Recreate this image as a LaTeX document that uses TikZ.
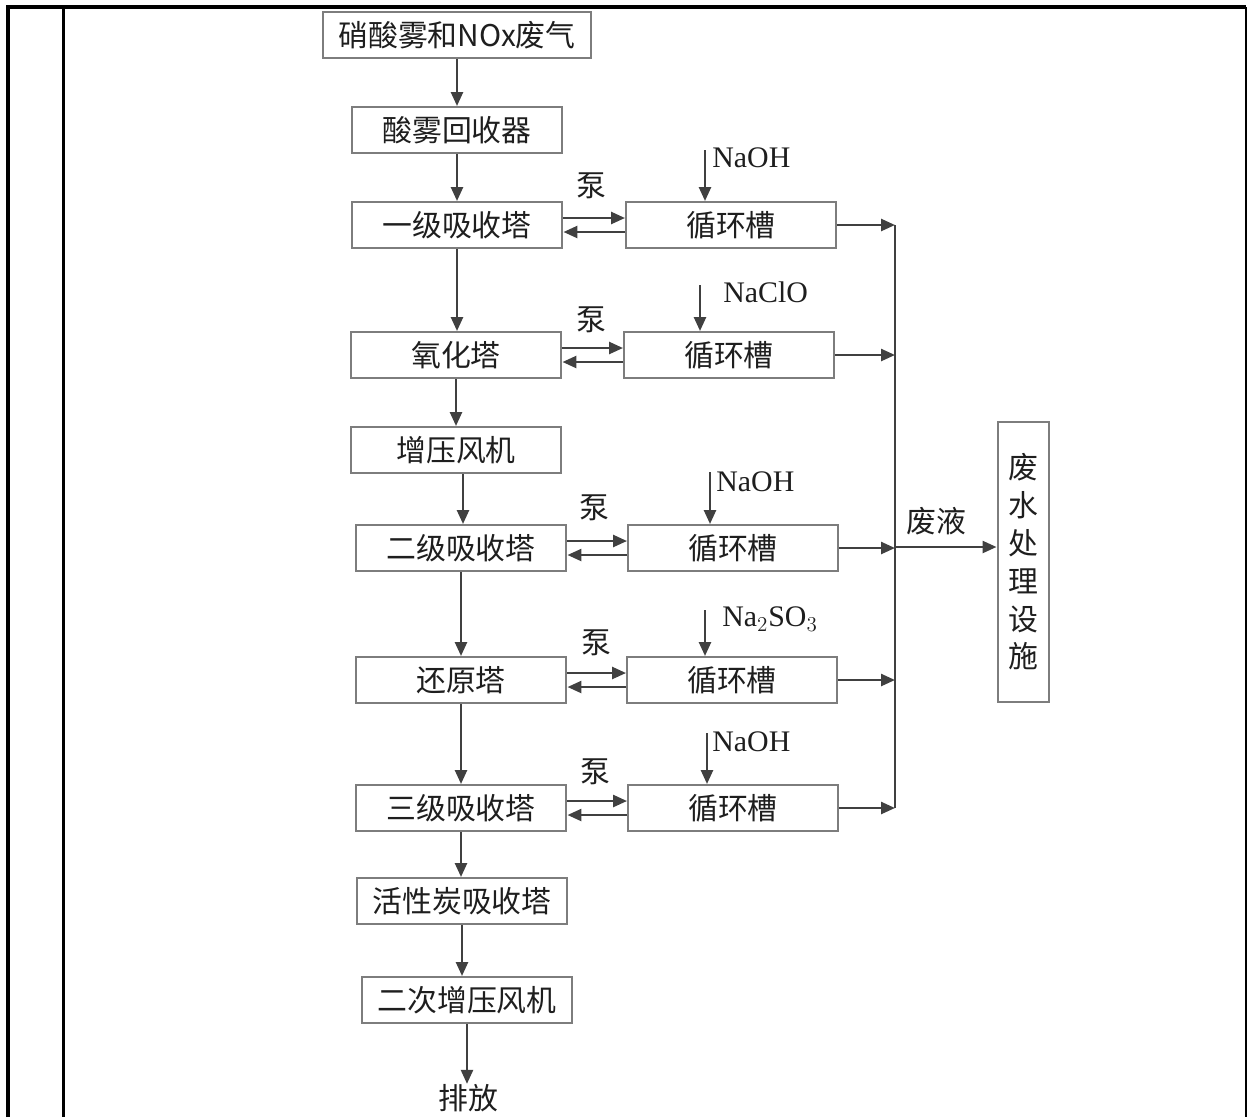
\documentclass[tikz,border=0pt]{standalone}
\usepackage{fontspec}
\setmainfont{Liberation Serif}
\newfontfamily\cjk{Noto Sans CJK SC}
\usetikzlibrary{arrows.meta}
\usetikzlibrary{shapes.geometric, arrows, positioning}
\definecolor{boxgray}{RGB}{125, 125, 125}
\definecolor{flowgray}{RGB}{64, 64, 64}
\definecolor{inkgray}{RGB}{30, 30, 30}

\tikzset{
  box/.style={draw=boxgray, line width=0.04cm, minimum width=4.22cm, minimum height=0.92cm,
    inner sep=0pt, text=inkgray, font=\cjk\fontsize{17}{20}\selectfont},
  tank/.style={box, minimum width=4.2cm},
  lbl/.style={inner sep=0pt, text=inkgray, font=\cjk\fontsize{17}{20}\selectfont},
  chem/.style={inner sep=0pt, anchor=west, text=inkgray, font=\fontsize{17}{20}\selectfont},
  flow/.style={draw=flowgray, line width=0.05cm, -{Triangle[length=0.28cm, width=0.24cm]}}
}

\begin{document}
\begin{tikzpicture}[x=0.02cm, y=-0.02cm]

        \useasboundingbox (0,0) rectangle (1247,1117);

        % Rahmen
        \draw[black, line width=0.08cm] (8,1117) -- (8,7) -- (1246,7);
        \draw[black, line width=0.06cm] (63,7) -- (63,1117);
        \draw[black, line width=0.04cm] (1246,7) -- (1246,1117);

        % --- HAUPTSTRANG ---
        \node[box, minimum width=5.38cm] (gas) at (457,35) {硝酸雾和NOx废气};
        \node[box] (rec) at (457,130) {酸雾回收器};
        \node[box] (abs1) at (457,225) {一级吸收塔};
        \node[box] (ox) at (456,355) {氧化塔};
        \node[box] (fan) at (456,450) {增压风机};
        \node[box] (abs2) at (461,548) {二级吸收塔};
        \node[box] (red) at (461,680) {还原塔};
        \node[box] (abs3) at (461,808) {三级吸收塔};
        \node[box] (coal) at (462,901) {活性炭吸收塔};
        \node[box] (fan2) at (467,1000) {二次增压风机};
        \node[lbl] (out) at (468,1098) {排放};

        \draw[flow] (gas) -- (gas |- rec.north);
        \draw[flow] (rec) -- (rec |- abs1.north);
        \draw[flow] (abs1) -- (abs1 |- ox.north);
        \draw[flow] (ox) -- (ox |- fan.north);
        \draw[flow] ([xshift=0.14cm]fan.south) -- ([xshift=0.14cm]fan.south |- abs2.north);
        \draw[flow] (abs2) -- (abs2 |- red.north);
        \draw[flow] (red) -- (red |- abs3.north);
        \draw[flow] (abs3) -- (abs3 |- coal.north);
        \draw[flow] (coal) -- (coal |- fan2.north);
        \draw[flow] (fan2) -- (fan2 |- out.north);

        % --- KREISLAUFTANKS ---
        \node[tank] (t1) at (731,225) {循环槽};
        \node[tank] (t2) at (729,355) {循环槽};
        \node[tank] (t3) at (733,548) {循环槽};
        \node[tank] (t4) at (732,680) {循环槽};
        \node[tank] (t5) at (733,808) {循环槽};

        % Pumpen
        \foreach \a/\t/\px/\py in {abs1/t1/591/186, ox/t2/591/320, abs2/t3/594/508, red/t4/596/643, abs3/t5/595/772} {
          \draw[flow] ([yshift=0.14cm]\a.east) -- ([yshift=0.14cm]\a.east -| \t.west);
          \draw[flow] ([yshift=-0.14cm]\t.west) -- ([yshift=-0.14cm]\t.west -| \a.east);
          \node[lbl] at (\px,\py) {泵};
        }

        % Chemikalien
        \coordinate (c1) at (705,150);
        \coordinate (c2) at (700,285);
        \coordinate (c3) at (710,472);
        \coordinate (c4) at (705,610);
        \coordinate (c5) at (707,733);
        \draw[flow] (c1) -- (c1 |- t1.north);
        \draw[flow] (c2) -- (c2 |- t2.north);
        \draw[flow] (c3) -- (c3 |- t3.north);
        \draw[flow] (c4) -- (c4 |- t4.north);
        \draw[flow] (c5) -- (c5 |- t5.north);
        \node[chem] at (712,158) {NaOH};
        \node[chem] at (723,292) {NaClO};
        \node[chem] at (716,482) {NaOH};
        \node[chem] at (722,619) {Na$_2$SO$_3$};
        \node[chem] at (712,742) {NaOH};

        % --- ABWASSER ---
        \coordinate (bus) at (895,547);
        \node[draw=boxgray, line width=0.04cm, minimum width=1.02cm, minimum height=5.6cm, inner sep=0pt,
          text=inkgray, align=center, font=\cjk\fontsize{17}{21.5}\selectfont] (waste) at (1023,562)
          {废\\水\\处\\理\\设\\施};

        \foreach \t in {t1,t2,t3,t4,t5}
          \draw[flow] (\t.east) -- (\t.east -| bus);
        \draw[flowgray, line width=0.05cm] (t1.east -| bus) -- (t5.east -| bus);
        \draw[flow] (bus) -- (bus -| waste.west);
        \node[lbl] at (936,521) {废液};

\end{tikzpicture}
\end{document}
